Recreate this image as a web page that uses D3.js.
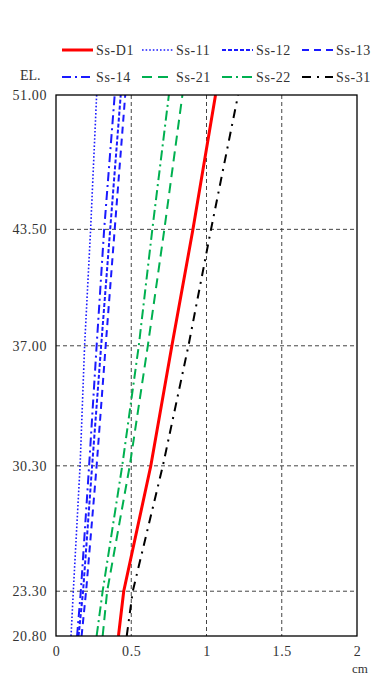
<!DOCTYPE html>
<html><head><meta charset="utf-8">
<script src="https://cdn.jsdelivr.net/npm/d3@7"></script>
<style>body{margin:0;background:#fff}svg{display:block}</style>
</head><body>
<svg id="c" width="374" height="675"></svg>
<script>
const elevations = [20.8, 23.3, 30.3, 37.0, 43.5, 51.0];
const yTicks = [20.8, 23.3, 30.3, 37.0, 43.5, 51.0];
const xTicks = [0, 0.5, 1, 1.5, 2];
const seriesNames = ["Ss-D1","Ss-11","Ss-12","Ss-13","Ss-14","Ss-21","Ss-22","Ss-31"];
const ssD1 = [0.415, 0.45, 0.63, 0.77, 0.91, 1.06];
const ss11 = [0.10, 0.115, 0.16, 0.19, 0.23, 0.27];
const ss12 = [0.15, 0.18, 0.24, 0.30, 0.36, 0.43];
const ss13 = [0.17, 0.20, 0.27, 0.33, 0.39, 0.46];
const ss14 = [0.14, 0.165, 0.22, 0.27, 0.32, 0.39];
const ss21 = [0.31, 0.34, 0.49, 0.61, 0.72, 0.84];
const ss22 = [0.27, 0.31, 0.44, 0.55, 0.64, 0.75];
const ss31 = [0.47, 0.51, 0.71, 0.88, 1.03, 1.21];

const values = [ssD1, ss11, ss12, ss13, ss14, ss21, ss22, ss31];
const styles = [
  {c:"#ff0000", w:3, d:null},
  {c:"#1a1aff", w:1.6, d:"1.6,2"},
  {c:"#1a1aff", w:2, d:"4,2"},
  {c:"#1a1aff", w:2, d:"7,5"},
  {c:"#1a1aff", w:2, d:"9,4,2,4"},
  {c:"#00b050", w:2, d:"10,6"},
  {c:"#00b050", w:2, d:"10,4,2,4"},
  {c:"#000000", w:2, d:"9,6,2,6"}
];
const font = "'Liberation Serif', serif";
const fs = 14;
const svg = d3.select("#c");
const L=56, R=357, T=95, B=636;
const x = d3.scaleLinear().domain([0,2]).range([L,R]);
const y = d3.scaleLinear().domain([20.8,51]).range([B,T]);

// grid
svg.append("g").selectAll("line").data(yTicks.filter(v=>v>20.8 && v<51)).join("line")
  .attr("x1",L).attr("x2",R).attr("y1",d=>y(d)).attr("y2",d=>y(d))
  .attr("stroke","#444").attr("stroke-width",1).attr("stroke-dasharray","4,3");
svg.append("g").selectAll("line").data(xTicks.filter(v=>v>0 && v<2)).join("line")
  .attr("y1",T).attr("y2",B).attr("x1",d=>x(d)).attr("x2",d=>x(d))
  .attr("stroke","#444").attr("stroke-width",1).attr("stroke-dasharray","4,3");

// series
const line = d3.line().x(d=>x(d[0])).y(d=>y(d[1]));
svg.append("defs").append("clipPath").attr("id","clip").append("rect")
  .attr("x",L).attr("y",T).attr("width",R-L).attr("height",B-T);
const g = svg.append("g").attr("clip-path","url(#clip)");
values.forEach((vals,i)=>{
  const s = styles[i];
  g.append("path").attr("d", line(vals.map((v,k)=>[v, elevations[k]])))
    .attr("fill","none").attr("stroke",s.c).attr("stroke-width",s.w)
    .attr("stroke-dasharray",s.d);
});

// frame
svg.append("rect").attr("x",L).attr("y",T).attr("width",R-L).attr("height",B-T)
  .attr("fill","none").attr("stroke","#000").attr("stroke-width",1.3);

// axes labels
const yAxis = d3.axisLeft(y).tickValues(yTicks).tickFormat(d3.format(".2f")).tickSize(0).tickPadding(9);
const ya = svg.append("g").attr("transform",`translate(${L},0)`).call(yAxis);
ya.select(".domain").remove();
ya.selectAll("text").attr("font-family",font).attr("font-size",fs).attr("fill","#333")
  .attr("letter-spacing","0.6");

const xAxis = d3.axisBottom(x).tickValues(xTicks).tickFormat(d=>String(d)).tickSize(0).tickPadding(10);
const xa = svg.append("g").attr("transform",`translate(0,${B})`).call(xAxis);
xa.select(".domain").remove();
xa.selectAll("text").attr("font-family",font).attr("font-size",fs).attr("fill","#333")
  .attr("letter-spacing","0.6");

svg.append("text").attr("x",R+3).attr("y",673).attr("text-anchor","middle")
  .attr("font-family",font).attr("font-size",13).attr("fill","#333").text("cm");
svg.append("text").attr("x",20).attr("y",80)
  .attr("font-family",font).attr("font-size",fs).attr("fill","#333").text("EL.");

// legend
const colX = [62, 142, 222, 302];
const rowY = [50, 77];
seriesNames.forEach((n,i)=>{
  const cx = colX[i%4], cy = rowY[Math.floor(i/4)];
  const s = styles[i];
  svg.append("line").attr("x1",cx).attr("x2",cx+31).attr("y1",cy).attr("y2",cy)
    .attr("stroke",s.c).attr("stroke-width",s.w).attr("stroke-dasharray",s.d);
  svg.append("text").attr("x",cx+34).attr("y",cy+5)
    .attr("font-family",font).attr("font-size",fs).attr("fill","#333")
    .attr("letter-spacing","0.6").text(n);
});
</script>
</body></html>
